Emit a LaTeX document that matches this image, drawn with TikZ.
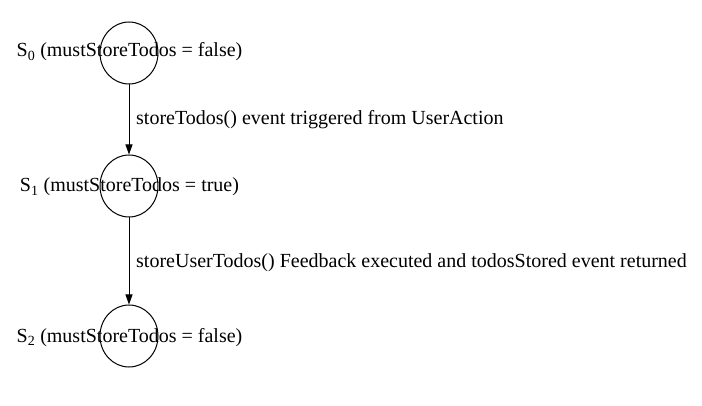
\documentclass[tikz,border=0pt]{standalone}
\usepackage{fontspec}
\setmainfont{Liberation Serif}
\usetikzlibrary{arrows.meta,shapes.geometric}

\begin{document}
\begin{tikzpicture}[x=1pt,y=-1pt,
  state/.style={ellipse,draw,line width=1pt,minimum width=58pt,minimum height=62pt,inner sep=0pt},
  slabel/.style={anchor=base,inner sep=0pt,font=\fontsize{20}{24}\selectfont},
  elabel/.style={anchor=base west,inner sep=0pt,font=\fontsize{20}{24}\selectfont},
  trans/.style={line width=1pt,-{Triangle[length=10pt,width=7pt]}}]
 \useasboundingbox (0,0) rectangle (702,406);

 \node at (129,53) [state] (s0) {};
 \node at (129,186) [state] (s1) {};
 \node at (129,336) [state] (s2) {};

 \node at (129.5,57) [slabel] (l0) {S\textsubscript{0} (mustStoreTodos = false)};
 \node at (129.5,192) [slabel] (l1) {S\textsubscript{1} (mustStoreTodos = true)};
 \node at (129.5,342) [slabel] (l2) {S\textsubscript{2} (mustStoreTodos = false)};

 \draw[trans] (s0)--(s1);
 \draw[trans] (s1)--(s2);

 \node at (136,125) [elabel] (e0) {storeTodos() event triggered from UserAction};
 \node at (136,268) [elabel] (e1) {storeUserTodos() Feedback executed and todosStored event returned};
\end{tikzpicture}
\end{document}
